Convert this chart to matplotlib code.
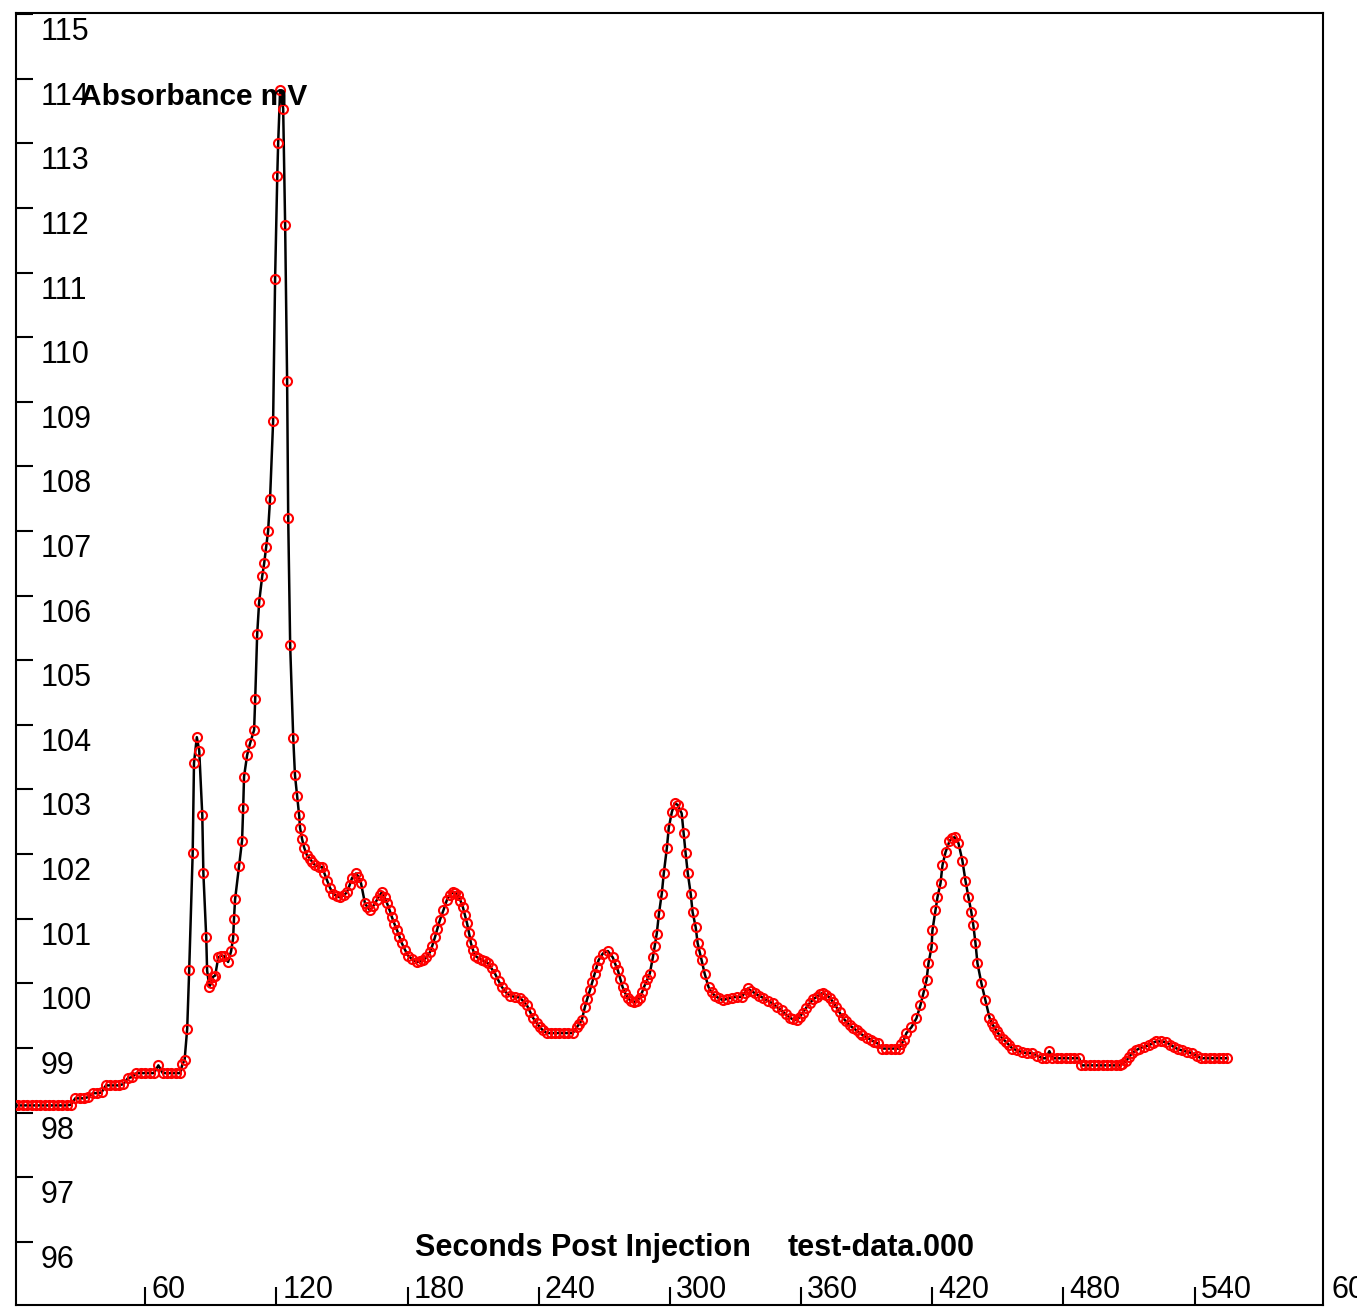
import matplotlib
matplotlib.use("Agg")
import matplotlib.pyplot as plt
import matplotlib.transforms as mtransforms

# detector trace: seconds post injection / absorbance (mV)
seconds = [
    0, 2, 4, 6, 8, 10, 12, 14, 16, 18, 20, 22, 24, 26,
    28, 30, 32, 34, 36, 38, 40, 42, 44, 46, 48, 50, 52, 54,
    56, 58, 60, 62, 64, 66, 68, 70, 72, 74, 76, 77, 78,
    79.2, 80.1, 81.7, 82.3, 83.6, 84.7, 86.1, 86.6, 87.9, 88.3, 89.3, 90.2, 91.0,
    92.0, 93.4, 94.8, 96.1, 97.9, 99.3, 100.2, 100.6, 101.1, 102.9, 104.3, 104.8,
    105.2, 106.6, 108.0, 109.8, 110.3, 111.2, 112.1, 113.5, 114.4, 115.3, 116.2,
    117.1, 118.5, 119.4, 120.4, 120.8, 121.7, 123.1, 124.0, 124.9, 125.4, 126.3,
    127.7, 128.5, 129.5, 130.4, 130.8, 131.7, 132.7, 134.0, 135.4, 136.5, 137.7,
    139.3, 140.9, 142.0, 143.2, 144.5, 145.9, 147.5, 149.1, 150.7, 152.3, 153.5,
    154.6, 156.4, 157.5, 158.7, 160.5, 161.6, 162.8, 164.4, 166.0, 167.2, 168.3,
    169.5, 170.6, 171.8, 172.9, 174.0, 175.2, 176.3, 177.4, 178.8, 180.2, 182.2,
    184.3, 185.7, 187.1, 188.6, 190.2, 191.3, 192.5, 193.6, 194.8, 196.4, 198.0,
    199.4, 200.8, 201.9, 203.0, 204.2, 205.3, 206.2, 207.2, 208.1, 209.0, 209.9,
    210.8, 212.4, 214.0, 215.4, 216.8, 218.4, 220.0, 221.6, 223.2, 225.0, 226.8,
    229.0, 231.3, 233.0, 234.6, 236.0, 237.3, 239.0, 240.5, 242.0, 243.7, 245.5,
    247.5, 249.5, 251.5, 253.5, 255.6, 257.4, 258.5, 259.7, 261.1, 262.2, 263.4,
    264.5, 265.6, 266.5, 267.4, 269.3, 271.6, 273.9, 275.0, 276.2, 277.3, 278.4,
    279.5, 280.7, 282.0, 283.5, 285.0, 286.2, 287.4, 288.5, 289.7, 290.8, 292.2,
    293.1, 294.0, 295.0, 296.3, 297.2, 298.6, 299.5, 300.9, 302.2, 303.6, 305.4,
    306.3, 307.2, 308.2, 309.5, 310.4, 311.8, 312.7, 313.6, 314.5, 315.9, 317.7,
    319.1, 320.5, 322.4, 324.2, 326.2, 328.3, 330.5, 332.8, 334.2, 335.6, 337.2,
    338.8, 340.6, 342.4, 344.7, 347.0, 349.0, 351.1, 353.0, 354.8, 356.4, 358.0,
    359.4, 360.7, 362.3, 363.9, 365.5, 367.1, 368.5, 369.9, 371.5, 373.1, 374.6,
    376.2, 377.6, 379.0, 380.6, 382.2, 383.8, 385.4, 386.8, 388.1, 390.2, 392.2,
    393.6, 395.0, 397.0, 399.0, 401.0, 403.0, 405.0, 405.9, 407.0, 408.2, 410.5,
    412.8, 414.6, 416.0, 417.4, 418.3, 419.7, 420.1, 421.5, 422.4, 423.8, 424.7,
    426.1, 427.9, 429.0, 430.2, 432.0, 433.8, 435.2, 436.6, 437.9, 438.8, 439.8,
    440.7, 442.5, 444.3, 446.2, 447.3, 448.4, 449.5, 450.7, 452.3, 453.9, 455.3,
    456.7, 459.0, 461.3, 463.5, 465.8, 468.0, 470.4, 472.0, 473.6, 475.0, 477.0,
    479.0, 481.0, 483.0, 485.0, 487.3, 488.2, 490.0, 492.0, 494.0, 496.0, 498.0,
    500.0, 502.0, 504.0, 506.0, 507.0, 508.8, 510.0, 511.5, 513.0, 514.7, 517.0,
    519.3, 521.0, 522.5, 524.8, 527.0, 529.0, 530.7, 532.5, 534.4, 536.5, 538.9,
    541.0, 543.0, 545.0, 547.0, 549.0, 551.0, 553.0, 555.0,
]
absorbance = [
    98.11, 98.11, 98.11, 98.11, 98.11, 98.11, 98.11, 98.11, 98.11, 98.11, 98.11, 98.11, 98.11, 98.12,
    98.22, 98.22, 98.22, 98.24, 98.30, 98.30, 98.31, 98.42, 98.42, 98.42, 98.42, 98.44, 98.53, 98.55,
    98.61, 98.61, 98.61, 98.61, 98.61, 98.73, 98.61, 98.61, 98.61, 98.61, 98.61, 98.75, 98.81,
    99.30, 100.20, 102.01, 103.41, 103.81, 103.60, 102.60, 101.70, 100.71, 100.20, 99.95, 100.00, 100.10,
    100.12, 100.40, 100.43, 100.42, 100.33, 100.50, 100.70, 101.00, 101.30, 101.81, 102.21, 102.71,
    103.20, 103.53, 103.72, 103.92, 104.40, 105.40, 105.90, 106.30, 106.50, 106.75, 107.00,
    107.50, 108.70, 110.90, 112.50, 113.00, 113.82, 113.54, 111.73, 109.33, 107.20, 105.23,
    103.80, 103.22, 102.90, 102.60, 102.41, 102.24, 102.10, 101.98, 101.93, 101.87, 101.83,
    101.80, 101.80, 101.70, 101.59, 101.48, 101.39, 101.35, 101.33, 101.36, 101.41, 101.52,
    101.63, 101.70, 101.65, 101.55, 101.24, 101.18, 101.13, 101.20, 101.29, 101.36, 101.41,
    101.33, 101.24, 101.13, 101.02, 100.92, 100.82, 100.72, 100.62, 100.52, 100.43, 100.37,
    100.33, 100.34, 100.36, 100.40, 100.48, 100.58, 100.71, 100.84, 100.98, 101.13, 101.29,
    101.37, 101.41, 101.40, 101.36, 101.28, 101.18, 101.06, 100.93, 100.78, 100.62, 100.52,
    100.43, 100.39, 100.36, 100.34, 100.31, 100.23, 100.15, 100.04, 99.94, 99.86, 99.81,
    99.79, 99.78, 99.72, 99.66, 99.56, 99.47, 99.39, 99.32, 99.27, 99.23, 99.23,
    99.23, 99.23, 99.23, 99.23, 99.23, 99.32, 99.37, 99.43, 99.63, 99.76, 99.89,
    100.02, 100.15, 100.26, 100.36, 100.46, 100.50, 100.40, 100.30, 100.20, 100.07, 99.94,
    99.85, 99.78, 99.73, 99.71, 99.73, 99.78, 99.87, 99.97, 100.06, 100.15, 100.40,
    100.58, 100.77, 101.08, 101.39, 101.70, 102.09, 102.41, 102.65, 102.79, 102.76, 102.63,
    102.32, 102.01, 101.70, 101.39, 101.10, 100.87, 100.62, 100.49, 100.36, 100.15, 99.94,
    99.86, 99.81, 99.77, 99.74, 99.76, 99.78, 99.79, 99.79, 99.85, 99.92, 99.88,
    99.85, 99.81, 99.78, 99.73, 99.69, 99.63, 99.58, 99.52, 99.47, 99.44, 99.43,
    99.48, 99.54, 99.62, 99.69, 99.75, 99.79, 99.83, 99.85, 99.82, 99.78, 99.71,
    99.63, 99.55, 99.47, 99.41, 99.35, 99.31, 99.27, 99.23, 99.20, 99.16, 99.12,
    99.09, 99.07, 98.99, 98.99, 98.99, 98.99, 98.99, 99.06, 99.12, 99.23, 99.32,
    99.46, 99.66, 99.85, 100.05, 100.31, 100.56, 100.82, 101.13, 101.33, 101.55, 101.83,
    102.03, 102.20, 102.25, 102.26, 102.17, 101.90, 101.59, 101.33, 101.10, 100.90, 100.62,
    100.31, 100.00, 99.74, 99.47, 99.38, 99.32, 99.26, 99.20, 99.14, 99.09, 99.04,
    98.99, 98.96, 98.93, 98.92, 98.92, 98.88, 98.84, 98.84, 98.95, 98.84, 98.84,
    98.84, 98.84, 98.84, 98.84, 98.84, 98.73, 98.73, 98.73, 98.73, 98.73, 98.73,
    98.73, 98.73, 98.73, 98.73, 98.75, 98.80, 98.86, 98.92, 98.96, 98.99, 99.02,
    99.04, 99.08, 99.10, 99.10, 99.09, 99.05, 99.01, 98.98, 98.96, 98.94, 98.92,
    98.88, 98.84, 98.84, 98.84, 98.84, 98.84, 98.84, 98.84,
]

x_ticks = [60, 120, 180, 240, 300, 360, 420, 480, 540, 600]
y_ticks = list(range(96, 116))

num_font = ["Liberation Sans Narrow", "Liberation Sans"]

fig = plt.figure(figsize=(13.57, 13.07), dpi=100)
ax = fig.add_axes([0.0115, 0.0015, 0.9635, 0.9886])

ax.plot(seconds, absorbance, color="black", lw=1.8, zorder=2)
ax.plot(seconds, absorbance, ls="none", marker="o", ms=6.5, mfc="none",
        mec="red", mew=1.5, zorder=3)

ax.set_xticks(x_ticks)
ax.set_yticks(y_ticks)
ax.set_xlim(0.7, 598.8)
ax.set_ylim(95.02, 115.02)
ax.tick_params(axis="x", direction="in", length=13, width=1.5, labelbottom=False)
ax.tick_params(axis="y", direction="in", length=12, width=1.5, labelleft=False)
for s in ax.spines.values():
    s.set_linewidth(1.5)

# tick labels sit inside the frame, right of / below the tick marks
xtrans = mtransforms.blended_transform_factory(ax.transData, ax.transAxes)
xtrans = mtransforms.offset_copy(xtrans, fig=fig, x=6, y=7, units="dots")
for t in x_ticks:
    ax.text(t, 0, str(t), transform=xtrans, ha="left", va="baseline",
            fontsize=22, family=num_font, clip_on=False)

ytrans = mtransforms.blended_transform_factory(ax.transAxes, ax.transData)
ytrans = mtransforms.offset_copy(ytrans, fig=fig, x=25, y=-26, units="dots")
for v in y_ticks:
    ax.text(0, v, str(v), transform=ytrans, ha="left", va="baseline",
            fontsize=22, family=num_font)

W, H = 1357, 1307
fig.text(80 / W, 1 - 105 / H, "Absorbance mV", fontsize=21.5,
         fontweight="bold", family="Liberation Sans", va="baseline")
fig.text(415 / W, 1 - 1256 / H, "Seconds Post Injection", fontsize=22,
         fontweight="bold", family="Liberation Sans", va="baseline")
fig.text(788 / W, 1 - 1256 / H, "test-data.000", fontsize=22,
         fontweight="bold", family="Liberation Sans", va="baseline")

fig.savefig("out.png", dpi=100, facecolor="white")
